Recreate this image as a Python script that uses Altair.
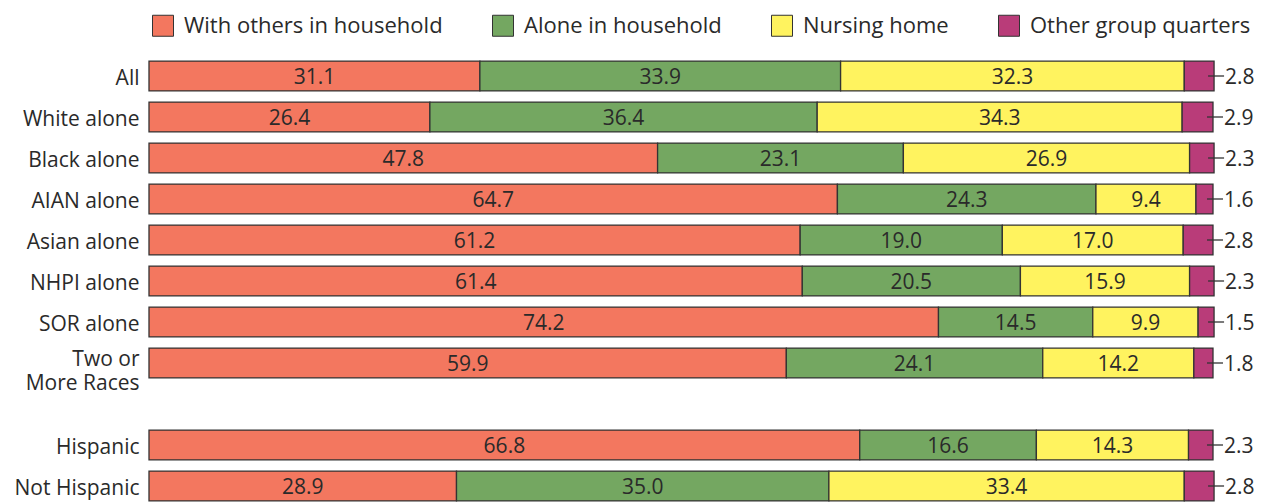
import altair as alt
import pandas as pd

groups = ["All", "White alone", "Black alone", "AIAN alone", "Asian alone",
          "NHPI alone", "SOR alone", "Two or More Races", "Hispanic", "Not Hispanic"]
row_order = ["All", "White alone", "Black alone", "AIAN alone", "Asian alone",
             "NHPI alone", "SOR alone", "Two or More Races", " ", "Hispanic", "Not Hispanic"]
series = ["With others in household", "Alone in household", "Nursing home", "Other group quarters"]
colors = ["#F3775F", "#74A761", "#FFF35F", "#B93C79"]

with_others = [31.1, 26.4, 47.8, 64.7, 61.2, 61.4, 74.2, 59.9, 66.8, 28.9]
alone = [33.9, 36.4, 23.1, 24.3, 19.0, 20.5, 14.5, 24.1, 16.6, 35.0]
nursing = [32.3, 34.3, 26.9, 9.4, 17.0, 15.9, 9.9, 14.2, 14.3, 33.4]
other_gq = [2.8, 2.9, 2.3, 1.6, 2.8, 2.3, 1.5, 1.8, 2.3, 2.8]

rows = []
for i, g in enumerate(groups):
    vals = [with_others[i], alone[i], nursing[i], other_gq[i]]
    for k, (s, v) in enumerate(zip(series, vals)):
        rows.append({"group": g, "series": s, "order": k, "value": v})
df = pd.DataFrame(rows)

totals = pd.DataFrame({
    "group": groups,
    "total": [a + b + c + d for a, b, c, d in zip(with_others, alone, nursing, other_gq)],
    "label": [f"{v:.1f}" for v in other_gq],
})

mid_rows = []
for i, g in enumerate(groups):
    start = 0.0
    for v in [with_others[i], alone[i], nursing[i]]:
        mid_rows.append({"group": g, "mid": start + v / 2, "text": f"{v:.1f}"})
        start += v
mids = pd.DataFrame(mid_rows)

FONT = "Open Sans"
TXT = "#2a2a2a"
FS = 21

y_scale = alt.Scale(domain=row_order, paddingInner=0.27, paddingOuter=0.135)
x_scale = alt.Scale(domain=[0, 100], nice=False, zero=True)

y_enc = alt.Y("group:N", scale=y_scale,
              axis=alt.Axis(title=None, labelFontSize=FS, labelFont=FONT, labelColor=TXT,
                            labelPadding=10, ticks=False, domain=False, grid=False,
                            labelOffset={"condition": {"test": "datum.value == 'Two or More Races'", "value": -3}, "value": 3},
                            labelExpr="datum.value == 'Two or More Races' ? ['Two or', 'More Races'] : datum.label",
                            labelLineHeight=24))

bars = alt.Chart(df).mark_bar(stroke="#333333", strokeWidth=1.3, opacity=1).encode(
    y=y_enc,
    x=alt.X("value:Q", stack="zero", scale=x_scale, axis=None),
    color=alt.Color("series:N", sort=series,
                    scale=alt.Scale(domain=series, range=colors),
                    legend=alt.Legend(title=None, orient="none", direction="horizontal",
                                      legendX=3, legendY=-41, symbolType="square",
                                      symbolSize=441, symbolStrokeColor="#333",
                                      symbolStrokeWidth=1, symbolOpacity=1,
                                      labelFontSize=22, labelFont=FONT, labelColor=TXT,
                                      labelLimit=500, labelOffset=10, columnPadding=47,
                                      padding=0)),
    order=alt.Order("order:Q"),
)

inside = alt.Chart(mids).mark_text(
    fontSize=FS, font=FONT, color=TXT, baseline="middle", align="center", dy=2
).encode(
    y=alt.Y("group:N", scale=y_scale),
    x=alt.X("mid:Q", scale=x_scale, axis=None),
    text="text:N",
)

leader = alt.Chart(totals).mark_rule(color="#333", strokeWidth=1.3, xOffset=-6, x2Offset=10).encode(
    y=alt.Y("group:N", scale=y_scale, bandPosition=0.5),
    x=alt.X("total:Q", scale=x_scale, axis=None),
    x2="total:Q",
)

outside = alt.Chart(totals).mark_text(
    fontSize=FS, font=FONT, color=TXT, baseline="middle", align="left", dx=11, dy=2
).encode(
    y=alt.Y("group:N", scale=y_scale),
    x=alt.X("total:Q", scale=x_scale, axis=None),
    text="label:N",
)

chart = alt.layer(bars, inside, leader, outside).properties(
    width=1064, height=451,
    autosize=alt.AutoSizeParams(type="none"),
    padding={"left": 141, "top": 47.5, "right": 41, "bottom": 0},
).configure(background="white", view=alt.ViewConfig(stroke=None))

chart.save("out.html", embed_options={"renderer": "svg", "actions": False})
